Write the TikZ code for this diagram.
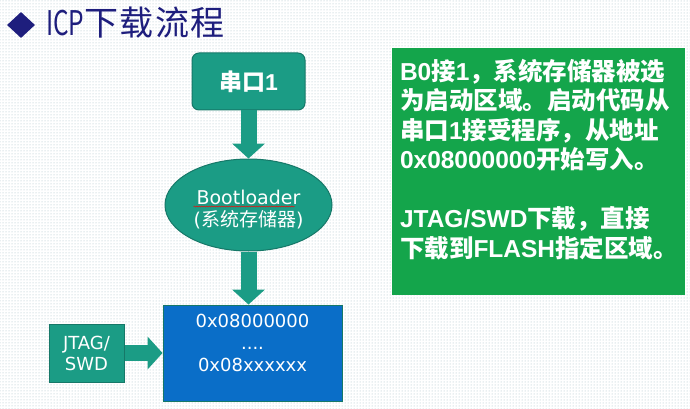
\documentclass[tikz,border=0pt]{standalone}
\usepackage{graphicx}
\usepackage{fontspec}
\setmainfont{DejaVu Sans}
\newfontfamily\cjkfont{Noto Sans CJK SC}
\newfontfamily\titlefont[LetterSpace=4]{Noto Sans CJK SC}
\newfontfamily\arialfont{Liberation Sans}
\usetikzlibrary{positioning,shapes.geometric,arrows.meta,patterns,decorations.pathmorphing}

\definecolor{tealbox}{RGB}{27,156,133}
\definecolor{tealedge}{RGB}{22,120,104}
\definecolor{flashblue}{RGB}{10,110,200}
\definecolor{notegreen}{RGB}{20,165,75}
\definecolor{navy}{RGB}{30,30,125}
\definecolor{dotgray}{RGB}{160,188,198}

\tikzset{
  tealnode/.style={draw=tealedge, line width=1pt, fill=tealbox, text=white},
  flashbox/.style={draw=tealedge, line width=1pt, fill=flashblue},
  notebox/.style={fill=notegreen},
  flow/.style={tealbox, line width=16pt, -{Triangle[width=33pt,length=15pt,line width=0pt]}},
}

\begin{document}
\begin{tikzpicture}[x=1pt, y=-1pt, node distance=48pt]

  % background
  \fill[white] (0,0) rectangle (690,409);
  \fill[pattern=dots, pattern color=dotgray] (0,0) rectangle (690,409);
  \useasboundingbox (0,0) rectangle (690,409);

  % title
  \node[diamond, fill=navy, minimum width=28pt, minimum height=26pt, inner sep=0pt] (bullet) at (21,25) {};
  \node[anchor=base west, inner sep=0pt, text=navy, font=\cjkfont\fontsize{34}{34}\selectfont]
        (title) at (46,36) {\scalebox{0.72}[1]{ICP}{\titlefont 下载流程}};

  % flow
  \node[tealnode, rounded corners=7pt, minimum width=113pt, minimum height=57pt,
        font=\cjkfont\bfseries\fontsize{23}{23}\selectfont] (uart) at (248.5,81.5) {串口{\arialfont 1}};
  \node[tealnode, ellipse, minimum width=167pt, minimum height=92pt, inner sep=0pt, below=of uart,
        align=center, font=\fontsize{19}{22}\selectfont] (boot) {\rule{0pt}{24pt}Bootloader\\({\cjkfont 系统存储器})};
  \node[flashbox, minimum width=179pt, minimum height=96pt, below=53pt of boot, xshift=4pt] (flash) {};
  \node[anchor=north, inner sep=0pt, text=white, align=center, font=\fontsize{18}{22}\selectfont]
        (flashaddr) at ([yshift=-9pt]flash.north) {0x08000000\\....\\0x08xxxxxx};
  \node[tealnode, minimum width=75pt, minimum height=58pt, left=38pt of flash, align=center,
        font=\fontsize{18}{21}\selectfont] (jtag) {JTAG/\\SWD};

  \draw[red, line width=0.5pt, decorate, decoration={snake, amplitude=0.5pt, segment length=2.5pt}]
        ([xshift=-55pt,yshift=-1.5pt]boot.center) -- ([xshift=46pt,yshift=-1.5pt]boot.center);

  \draw[flow] (uart.south) -- (boot.north);
  \draw[flow] (boot.south) -- (boot.south |- flash.north);
  \draw[flow] (jtag.east) -- (flash.west);

  % note
  \node[notebox, minimum width=293pt, minimum height=247pt] (note) at (538.5,171.5) {};
  \node[anchor=north west, inner sep=0pt, text=white, align=left,
        font=\cjkfont\bfseries\fontsize{24.5}{29.5}\selectfont]
        (notebody) at ([shift={(8pt,-11pt)}]note.north west)
        {{\arialfont B0}接{\arialfont 1}，系统存储器被选\\
         为启动区域。启动代码从\\
         串口{\arialfont 1}接受程序，从地址\\
         {\arialfont 0x08000000}开始写入。\\[29.5pt]
         {\arialfont JTAG/SWD}下载，直接\\
         下载到{\arialfont FLASH}指定区域。};

\end{tikzpicture}
\end{document}
